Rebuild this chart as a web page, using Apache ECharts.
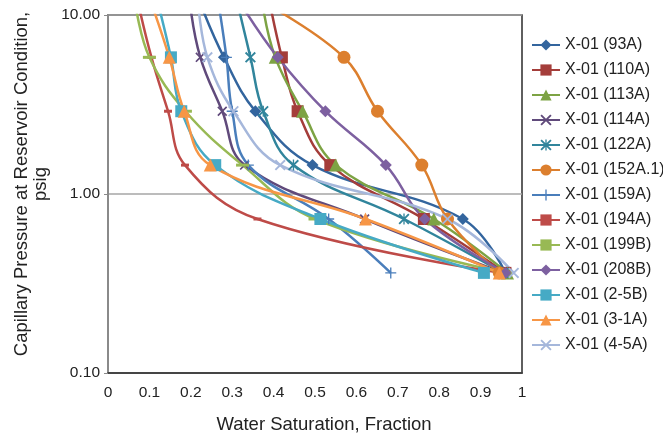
<!DOCTYPE html>
<html>
<head>
<meta charset="utf-8">
<script src="https://cdn.jsdelivr.net/npm/echarts@6/dist/echarts.min.js"></script>
<style>html,body{margin:0;padding:0;background:#fff}#c{width:663px;height:438px}</style>
</head>
<body>
<div id="c"></div>
<script>
// Capillary pressure levels (psig)
var pressures = [11.6, 5.8, 2.9, 1.45, 0.725, 0.3625];
var seriesNames = ['X-01 (93A)','X-01 (110A)','X-01 (113A)','X-01 (114A)','X-01 (122A)','X-01 (152A.1)','X-01 (159A)','X-01 (194A)','X-01 (199B)','X-01 (208B)','X-01 (2-5B)','X-01 (3-1A)','X-01 (4-5A)'];
// Water saturation per pressure level
var sw93A   = [0.223, 0.280, 0.356, 0.494, 0.857, 0.960];
var sw110A  = [0.391, 0.420, 0.458, 0.537, 0.763, 0.960];
var sw113A  = [0.373, 0.404, 0.470, 0.550, 0.787, 0.965];
var sw114A  = [0.198, 0.223, 0.276, 0.330, 0.620, 0.955];
var sw122A  = [0.313, 0.344, 0.375, 0.448, 0.715, 0.955];
var sw152A1 = [0.380, 0.570, 0.651, 0.758, 0.820, 0.945];
var sw159A  = [0.267, 0.286, 0.300, 0.339, 0.533, 0.683];
var sw194A  = [0.073, 0.105, 0.145, 0.186, 0.361, 0.950];
var sw199B  = [0.066, 0.100, 0.187, 0.325, 0.500, 0.960];
var sw208B  = [0.320, 0.410, 0.525, 0.671, 0.765, 0.960];
var sw25B   = [0.121, 0.152, 0.177, 0.259, 0.513, 0.908];
var sw31A   = [0.105, 0.148, 0.184, 0.247, 0.622, 0.945];
var sw45A   = [0.218, 0.240, 0.303, 0.416, 0.820, 0.980];
var xTicks = ['0','0.1','0.2','0.3','0.4','0.5','0.6','0.7','0.8','0.9','1'];
var yTicks = ['0.10','1.00','10.00'];
var xTitle = 'Water Saturation, Fraction';
var yTitle1 = 'Capillary Pressure at Reservoir Condition,';
var yTitle2 = 'psig';

var allSw = [sw93A, sw110A, sw113A, sw114A, sw122A, sw152A1, sw159A, sw194A, sw199B, sw208B, sw25B, sw31A, sw45A];
var colors = ['#33659E','#A43D3A','#7DA344','#604A7B','#31859C','#DC7F2E','#4A7EBB','#BE4B48','#98B954','#7D60A0','#46AAC5','#F79646','#A5B7DB'];
var X = 'path://M0,1.2 L1.2,0 L5,3.8 L8.8,0 L10,1.2 L6.2,5 L10,8.8 L8.8,10 L5,6.2 L1.2,10 L0,8.8 L3.8,5 Z';
var PLUS = 'path://M4.4,0 H5.6 V4.4 H10 V5.6 H5.6 V10 H4.4 V5.6 H0 V4.4 H4.4 Z';
var STAR = 'path://M0,1.2 L1.2,0 L5,3.8 L8.8,0 L10,1.2 L6.2,5 L10,8.8 L8.8,10 L5,6.2 L1.2,10 L0,8.8 L3.8,5 Z M4.4,0 H5.6 V10 H4.4 Z';
var symbols = ['diamond','rect','triangle',X,STAR,'circle',PLUS,'rect','rect','diamond','rect','triangle',X];
var sizes = [12,12,13,10,11,13,11,[8,3],[13,3],12,12,13,11];

var series = seriesNames.map(function(n, i){
  return {
    name: n, type: 'line', smooth: 0.4, clip: true,
    symbol: symbols[i], symbolSize: sizes[i], symbolKeepAspect: false,
    lineStyle: {width: 2.5, color: colors[i]},
    itemStyle: {color: colors[i]},
    data: allSw[i].map(function(s, j){ return [s, pressures[j]]; })
  };
});

var FONT = 'Liberation Sans, Arial, Helvetica';
var chart = echarts.init(document.getElementById('c'), null, {renderer: 'canvas'});
chart.setOption({
  animation: false,
  backgroundColor: '#fff',
  color: colors,
  grid: {left: 108, right: 141, top: 15, bottom: 65, show: true, borderColor: '#2b2b2b', borderWidth: 1.5},
  legend: {
    orient: 'vertical', left: 526, top: 32, itemWidth: 28, itemHeight: 14, itemGap: 9,
    textStyle: {fontFamily: FONT, fontSize: 16, color: '#222', lineHeight: 16},
    data: seriesNames
  },
  graphic: [
    {type: 'text', x: 324, y: 425, style: {text: xTitle, font: '18.5px ' + FONT, fill: '#222', textAlign: 'center', textVerticalAlign: 'middle'}},
    {type: 'text', x: 22, y: 184, rotation: Math.PI / 2, style: {text: yTitle1, font: '18.5px ' + FONT, fill: '#222', textAlign: 'center', textVerticalAlign: 'middle'}},
    {type: 'text', x: 41, y: 184, rotation: Math.PI / 2, style: {text: yTitle2, font: '18.5px ' + FONT, fill: '#222', textAlign: 'center', textVerticalAlign: 'middle'}}
  ],
  xAxis: {
    type: 'value', min: 0, max: 1, interval: 0.1,
    axisLine: {show: true, lineStyle: {color: '#2b2b2b', width: 1.5}},
    axisTick: {show: false}, splitLine: {show: false},
    axisLabel: {margin: 12, fontFamily: FONT, fontSize: 15.5, color: '#222',
      formatter: function(v){ return xTicks[Math.round(v*10)]; }}
  },
  yAxis: {
    type: 'log', logBase: 10, min: 0.1, max: 10,
    axisLine: {show: true, onZero: false, lineStyle: {color: '#8a8a8a', width: 2}},
    axisTick: {show: true, length: 4, lineStyle: {color: '#8a8a8a'}},
    splitLine: {show: true, lineStyle: {color: '#a6a6a6', width: 1.5}},
    minorTick: {show: false},
    axisLabel: {margin: 8, fontFamily: FONT, fontSize: 15.5, color: '#222',
      formatter: function(v){ var k = Math.round(Math.log10(v)) + 1; return yTicks[k]; }}
  },
  series: series
});
</script>
</body>
</html>
